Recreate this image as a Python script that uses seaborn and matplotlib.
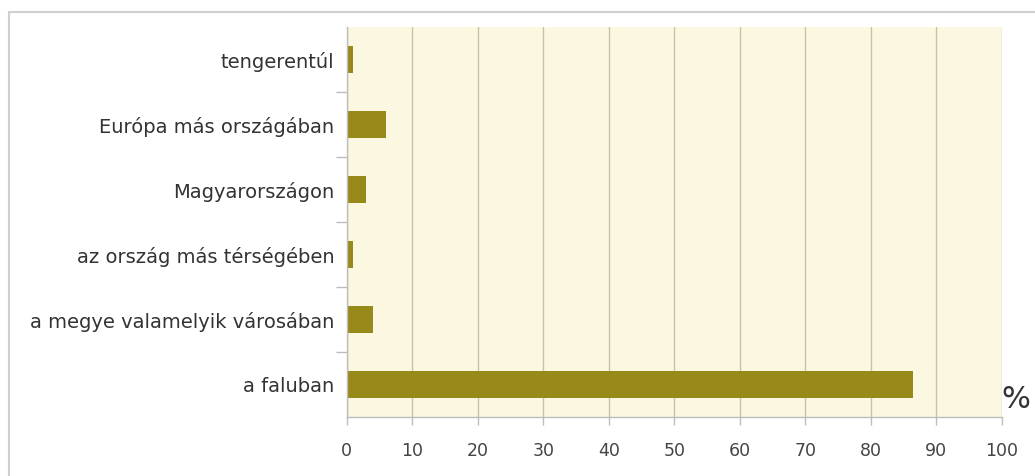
import matplotlib
matplotlib.use("Agg")
import matplotlib.pyplot as plt
import seaborn as sns
import pandas as pd
from matplotlib.patches import Rectangle

categories = ["tengerentúl", "Európa más országában", "Magyarországon",
              "az ország más térségében", "a megye valamelyik városában", "a faluban"]
values = [1, 6, 3, 1, 4, 86.5]
xticks = [0, 10, 20, 30, 40, 50, 60, 70, 80, 90, 100]

df = pd.DataFrame({"cat": categories, "val": values})

sns.set_theme(style="white")
plt.rcParams['font.family'] = ['DejaVu Sans']

fig = plt.figure(figsize=(10.35, 4.76), dpi=100)
ax = fig.add_axes([0.335, 0.124, 0.633, 0.819])
ax.set_facecolor("#FBF7E1")

sns.barplot(data=df, x="val", y="cat", order=categories, color="#978A1B",
            saturation=1, width=0.42, ax=ax, orient="h", linewidth=0)

ax.set_xlim(0, 100)
ax.set_ylim(5.5, -0.5)
ax.set_xticks(xticks)
ax.set_xticklabels([str(t) for t in xticks])
ax.xaxis.grid(True, color="#C9C3A6", linewidth=1)
ax.set_axisbelow(True)
ax.set_xlabel("")
ax.set_ylabel("")

for s in ["top", "right"]:
    ax.spines[s].set_visible(False)
for s in ["left", "bottom"]:
    ax.spines[s].set_color("#BDBDBD")
    ax.spines[s].set_linewidth(1)

ax.tick_params(axis="x", labelcolor="#444444", labelsize=12.5, length=6, width=1,
               direction="out", bottom=True, pad=12, color="#BDBDBD")
ax.tick_params(axis="y", labelsize=14, length=0, pad=9, labelcolor="#333333")
ax.set_yticks([i - 0.5 for i in range(1, 6)], minor=True)
ax.tick_params(axis="y", which="minor", length=8, color="#BDBDBD", left=True, width=1)

fig.text(1016 / 1035, 1 - 400 / 476, "%", fontsize=22, color="#333333",
         ha="center", va="center")

fig.patches.append(Rectangle((9 / 1035, -0.1), 1.2, 1 - 12 / 476 + 0.1,
                             transform=fig.transFigure, fill=False,
                             edgecolor="#CFCFCF", linewidth=1.5))

fig.savefig("out.png", dpi=100, facecolor="white")
